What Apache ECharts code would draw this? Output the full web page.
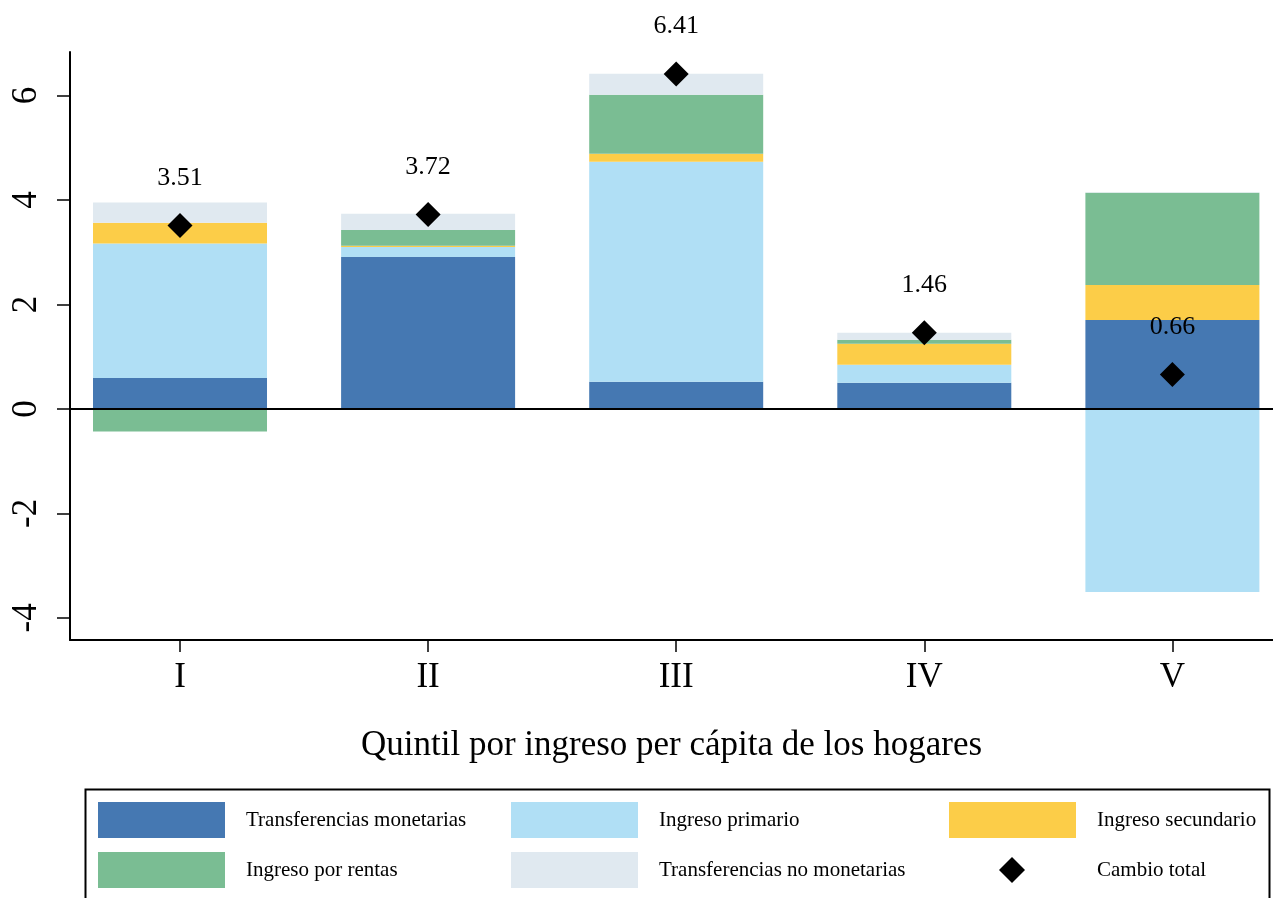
<!DOCTYPE html>
<html><head><meta charset="utf-8">
<script src="https://cdn.jsdelivr.net/npm/echarts@6/dist/echarts.min.js"></script>
<style>html,body{margin:0;padding:0;background:#fff}#c{width:1273px;height:898px}</style>
</head><body><div id="c"></div>
<script>
const categories = ['I', 'II', 'III', 'IV', 'V'];
const transferenciasMonetarias = [0.59, 2.91, 0.52, 0.50, 1.70];
const ingresoPrimario = [2.575, 0.19, 4.21, 0.345, -3.505];
const ingresoSecundario = [0.40, 0.025, 0.155, 0.40, 0.67];
const ingresoPorRentas = [-0.435, 0.30, 1.13, 0.077, 1.77];
const transferenciasNoMonetarias = [0.385, 0.31, 0.40, 0.134, 0.01];
const cambioTotal = [3.51, 3.72, 6.41, 1.46, 0.66];
const yTicks = [-4, -2, 0, 2, 4, 6];
const xTicks = [0, 1, 2, 3, 4];

const FONT = "'Liberation Serif', 'Times New Roman', serif";
const colors = {
  tm: '#4578B2', ip: '#B0DFF5', is: '#FCCD48', ir: '#7ABD93', tnm: '#E0E9F0'
};

// bar data: [value, index] with encode so the value dimension is stacked
function barData(arr) { return arr.map((v, i) => [v, i]); }

function barSeries(name, arr, color, extra) {
  return Object.assign({
    name: name,
    type: 'bar',
    stack: 'total',
    stackStrategy: 'samesign',
    barWidth: 174,
    encode: { x: 1, y: 0 },
    data: barData(arr),
    itemStyle: { color: color },
    emphasis: { disabled: true }
  }, extra || {});
}

const legendText = { fontSize: 21, color: '#000', fontFamily: FONT, padding: [0, 0, 0, 16] };

const chart = echarts.init(document.getElementById('c'), null, { renderer: 'canvas' });
const option = {
  animation: false,
  backgroundColor: '#fff',
  textStyle: { fontFamily: FONT },
  grid: { left: 70, right: 0, top: 52, bottom: 258, containLabel: false, outerBoundsMode: 'none' },
  xAxis: {
    type: 'value',
    min: -0.4434,
    max: 4.4055,
    splitLine: { show: false },
    axisLine: { onZero: false, lineStyle: { color: '#000', width: 2 } },
    axisTick: { show: true, customValues: xTicks, length: 12, lineStyle: { color: '#000', width: 1.5 } },
    axisLabel: {
      customValues: xTicks,
      formatter: v => categories[Math.round(v)],
      fontSize: 35, color: '#000', fontFamily: FONT, margin: 20
    },
    name: 'Quintil por ingreso per cápita de los hogares',
    nameLocation: 'middle',
    nameGap: 88,
    nameTextStyle: { fontSize: 35, color: '#000', fontFamily: FONT }
  },
  yAxis: {
    type: 'value',
    min: -4.425,
    max: 6.833,
    splitLine: { show: false },
    axisLine: { show: true, onZero: false, lineStyle: { color: '#000', width: 2 } },
    axisTick: { show: true, customValues: yTicks, length: 13, lineStyle: { color: '#000', width: 1.5 } },
    axisLabel: {
      customValues: yTicks,
      rotate: 90,
      fontSize: 35, color: '#000', fontFamily: FONT, margin: 26
    }
  },
  legend: [
    {
      data: ['Transferencias monetarias', 'Ingreso por rentas'],
      left: 98, top: 802, orient: 'vertical', padding: 0,
      itemWidth: 127, itemHeight: 36, itemGap: 14, icon: 'rect',
      textStyle: legendText
    },
    {
      data: ['Ingreso primario', 'Transferencias no monetarias'],
      left: 511, top: 802, orient: 'vertical', padding: 0,
      itemWidth: 127, itemHeight: 36, itemGap: 14, icon: 'rect',
      textStyle: legendText
    },
    {
      data: ['Ingreso secundario'],
      left: 949, top: 802, orient: 'vertical', padding: 0,
      itemWidth: 127, itemHeight: 36, itemGap: 14, icon: 'rect',
      textStyle: legendText
    },
    {
      data: [{ name: 'Cambio total', icon: 'diamond' }],
      left: 999, top: 857, orient: 'vertical', padding: 0,
      itemWidth: 26, itemHeight: 26,
      textStyle: { fontSize: 21, color: '#000', fontFamily: FONT, padding: [0, 0, 0, 67] }
    }
  ],
  graphic: [
    {
      type: 'rect', left: 83, top: 787, silent: true,
      shape: { width: 1184, height: 160 },
      style: { fill: 'none', stroke: '#000', lineWidth: 2 }
    }
  ],
  series: [
    barSeries('Transferencias monetarias', transferenciasMonetarias, colors.tm, {
      markLine: {
        silent: true, symbol: 'none', animation: false,
        label: { show: false },
        lineStyle: { color: '#000', width: 2, type: 'solid' },
        data: [{ yAxis: 0 }]
      }
    }),
    barSeries('Ingreso primario', ingresoPrimario, colors.ip),
    barSeries('Ingreso secundario', ingresoSecundario, colors.is),
    barSeries('Ingreso por rentas', ingresoPorRentas, colors.ir),
    barSeries('Transferencias no monetarias', transferenciasNoMonetarias, colors.tnm),
    {
      name: 'Cambio total',
      type: 'scatter',
      symbol: 'diamond',
      symbolSize: 25,
      z: 10,
      itemStyle: { color: '#000', opacity: 1 },
      data: cambioTotal.map((v, i) => [i, v]),
      label: {
        show: true, position: 'top', distance: 22,
        fontSize: 26, color: '#000', fontFamily: FONT, opacity: 1,
        formatter: p => p.value[1].toFixed(2)
      },
      emphasis: { disabled: true }
    }
  ]
};
chart.setOption(option);
</script>
</body></html>
